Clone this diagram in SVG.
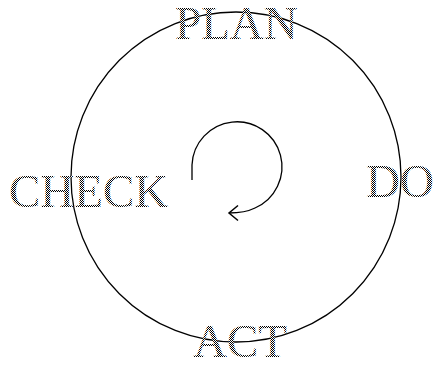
<svg xmlns="http://www.w3.org/2000/svg" width="435" height="367" viewBox="0 0 435 367">
<defs>
<pattern id="dither" patternUnits="userSpaceOnUse" width="2" height="2">
<rect width="2" height="2" fill="#fff"/>
<rect x="0" y="0" width="1" height="1" fill="#000"/>
<rect x="1" y="1" width="1" height="1" fill="#000"/>
</pattern>
<marker id="open" viewBox="0 0 12 18" refX="10" refY="9" markerWidth="12" markerHeight="18" markerUnits="userSpaceOnUse" orient="auto">
<path d="M1,1.5 L10,9 L1,16.5" fill="none" stroke="#000" stroke-width="1.5"/>
</marker>
<style>
.lbl{font-family:"Liberation Serif","Times New Roman",serif;font-size:47px;fill:url(#dither);}
.ln{fill:none;stroke:#000;stroke-width:1.3;}
</style>
</defs>
<rect width="435" height="367" fill="#fff"/>
<g id="connectors">
<ellipse class="ln" cx="236" cy="177" rx="165" ry="165"/>
<path class="ln" d="M192,180 L192,165 A45,45 0 1 1 255,208 Q245,213 229,213" marker-end="url(#open)"/>
</g>
<g id="plan"><text class="lbl" x="175" y="39">PLAN</text></g>
<g id="do"><text class="lbl" x="366" y="197">DO</text></g>
<g id="act"><text class="lbl" x="193" y="357">ACT</text></g>
<g id="check"><text class="lbl" x="9" y="207">CHECK</text></g>
</svg>
